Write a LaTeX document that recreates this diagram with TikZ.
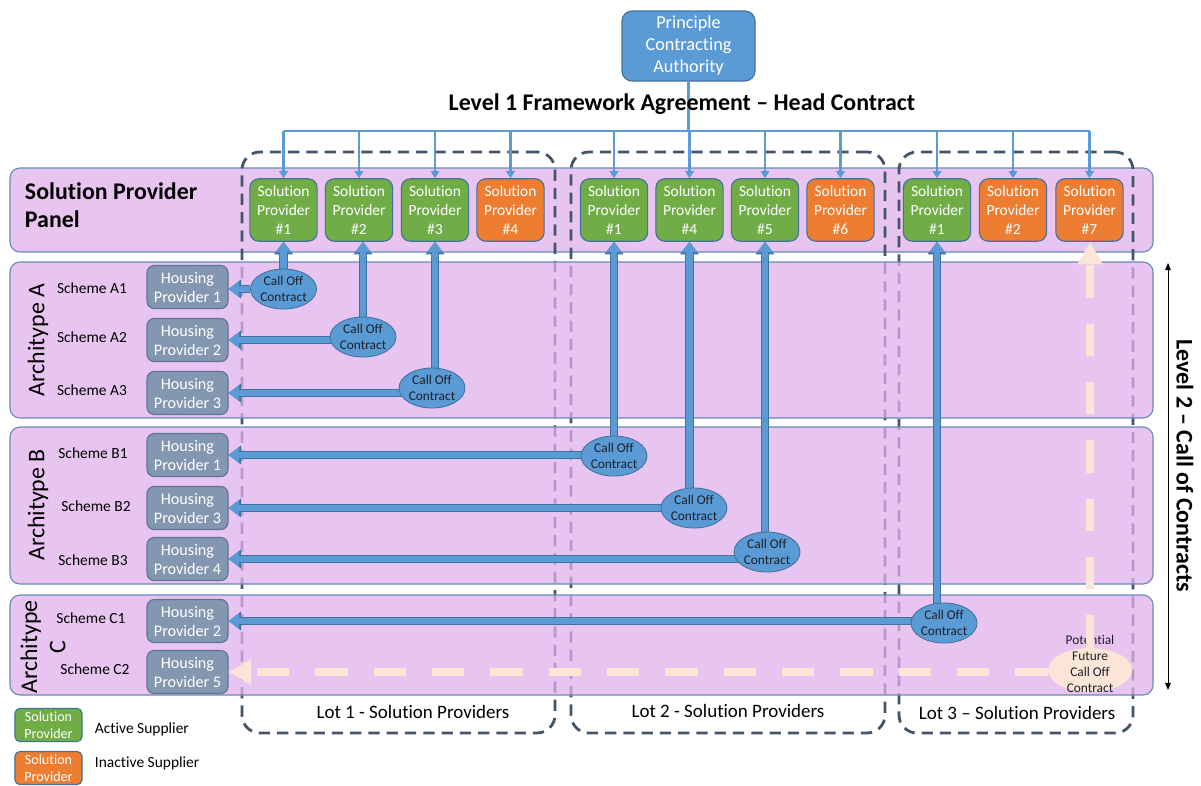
\documentclass[tikz,border=0pt]{standalone}
\usepackage{fontspec}
\setmainfont{Carlito}[Ligatures=NoCommon]
\usetikzlibrary{arrows.meta, shapes.geometric}
\definecolor{cofill}{RGB}{91,155,213}
\definecolor{coedge}{RGB}{65,113,156}
\definecolor{spgreen}{RGB}{112,173,71}
\definecolor{sporange}{RGB}{237,125,49}
\definecolor{hpgray}{RGB}{132,151,176}
\definecolor{hpedge}{RGB}{92,116,150}
\definecolor{panellilac}{RGB}{232,196,240}
\definecolor{rowlilac}{RGB}{224,176,235}
\definecolor{rowedge}{RGB}{104,138,186}
\definecolor{lotslate}{RGB}{68,84,106}
\definecolor{futpeach}{RGB}{251,229,214}
\definecolor{inkdark}{RGB}{30,32,40}
\pgfdeclarelayer{rows}
\pgfdeclarelayer{lines}
\pgfsetlayers{rows,lines,main}
\tikzset{
  panelbox/.style={
    draw=rowedge,
    line width=0.8pt,
    rounded corners=2.5mm,
    fill=panellilac,
    minimum width=285.75mm,
    inner sep=0pt
  },
  rowbox/.style={
    draw=rowedge,
    line width=0.8pt,
    rounded corners=2.5mm,
    fill=rowlilac,
    fill opacity=0.75,
    minimum width=285.75mm,
    inner sep=0pt
  },
  lotbox/.style={
    draw=lotslate,
    line width=2pt,
    dash pattern=on 8pt off 5pt,
    rounded corners=4.5mm,
    minimum height=145.25mm,
    inner sep=0pt
  },
  spbox/.style={
    draw=coedge,
    line width=0.8pt,
    rounded corners=2.2mm,
    minimum width=16.8mm,
    minimum height=15.6mm,
    inner sep=0pt,
    align=center,
    text=white,
    font=\fontsize{11}{13.5}\selectfont
  },
  spactive/.style={spbox, fill=spgreen},
  spinactive/.style={spbox, fill=sporange},
  hpbox/.style={
    draw=hpedge,
    line width=0.8pt,
    fill=hpgray,
    rounded corners=1.8mm,
    minimum width=20.25mm,
    minimum height=10.75mm,
    inner sep=0pt,
    align=center,
    text=white,
    font=\fontsize{11.5}{13.5}\selectfont
  },
  calloff/.style={
    ellipse,
    draw=coedge,
    line width=0.6pt,
    fill=cofill,
    minimum width=16.5mm,
    minimum height=10mm,
    inner sep=0pt,
    align=center,
    text=inkdark,
    font=\fontsize{9.5}{11}\selectfont
  },
  futurecall/.style={ellipse, fill=futpeach, minimum width=21mm, minimum height=11mm, inner sep=0pt},
  legendbox/.style={
    draw=coedge,
    line width=0.8pt,
    rounded corners=1.2mm,
    minimum width=16.75mm,
    minimum height=8.25mm,
    inner sep=0pt,
    align=center,
    text=white,
    font=\fontsize{10}{12}\selectfont
  },
  schemelabel/.style={font=\fontsize{11}{13}\selectfont},
  archlabel/.style={rotate=90, align=center, font=\fontsize{17}{20}\selectfont},
  lotlabel/.style={font=\fontsize{13.5}{16}\selectfont},
  headline/.style={draw=cofill, line width=1.6pt},
  headarrow/.style={headline, -{Triangle[width=6pt,length=5pt]}},
  callarrow/.style={draw=cofill, line width=4.6pt, -{Triangle[width=11pt,length=7.5pt]},
    preaction={draw=coedge, line width=6pt, -{Triangle[width=13pt,length=9pt]}}},
  futarrow/.style={draw=futpeach, line width=5.7pt, dash pattern=on 23pt off 18.5pt, -{Triangle[width=17pt,length=16pt]}},
  levelarrow/.style={draw=black, line width=0.6pt, {Triangle[width=4pt,length=5pt]}-{Triangle[width=4pt,length=5pt]}}
}

\begin{document}
\begin{tikzpicture}[x=0.25mm,y=-0.25mm]
    \useasboundingbox (0,0) rectangle (1201,785);

    \begin{pgfonlayer}{rows}
    \node[panelbox, minimum height=21mm] (panel) at (581.5,210) {};
    \node[lotbox, minimum width=78.25mm] (lot1) at (398.5,442.5) {};
    \node[lotbox, minimum width=78.5mm] (lot2) at (728,442.5) {};
    \node[lotbox, minimum width=58.5mm] (lot3) at (1016,442.5) {};
    \node[rowbox, minimum height=39mm] (rowA) at (581.5,340) {};
    \node[rowbox, minimum height=39.25mm] (rowB) at (581.5,505.5) {};
    \node[rowbox, minimum height=25mm] (rowC) at (581.5,645) {};
    \end{pgfonlayer}

    \node[draw=coedge, line width=0.8pt, fill=cofill, rounded corners=2.5mm, minimum width=33.25mm, minimum height=17.5mm,
      inner sep=0pt, align=center, text=white, font=\fontsize{13}{15.6}\selectfont] (pca) at (688.5,46) {Principle\\Contracting\\Authority};
    \node[font=\fontsize{17}{20}\selectfont\bfseries] (title) at (682,104) {Level 1 Framework Agreement -- Head Contract};
    \coordinate (bus) at (688.5,131);

    \node[anchor=west, align=left, font=\fontsize{17}{20}\selectfont\bfseries] (paneltext) at (20,205) {Solution Provider\\Panel};
    \node[spactive] (l1sp1) at (283.5,210) {Solution\\Provider\\\#1};
    \node[spactive] (l1sp2) at (359,210) {Solution\\Provider\\\#2};
    \node[spactive] (l1sp3) at (435,210) {Solution\\Provider\\\#3};
    \node[spinactive] (l1sp4) at (510.5,210) {Solution\\Provider\\\#4};
    \node[spactive] (l2sp1) at (614,210) {Solution\\Provider\\\#1};
    \node[spactive] (l2sp4) at (689.5,210) {Solution\\Provider\\\#4};
    \node[spactive] (l2sp5) at (765,210) {Solution\\Provider\\\#5};
    \node[spinactive] (l2sp6) at (840.5,210) {Solution\\Provider\\\#6};
    \node[spactive] (l3sp1) at (937,210) {Solution\\Provider\\\#1};
    \node[spinactive] (l3sp2) at (1013,210) {Solution\\Provider\\\#2};
    \node[spinactive] (l3sp7) at (1089.5,210) {Solution\\Provider\\\#7};

    \node[archlabel] (archA) at (38,340) {Architype A};
    \node[archlabel] (archB) at (38,505) {Architype B};
    \node[archlabel] (archC) at (43,647) {Architype\\C};

    \node[schemelabel] (schA1) at (92,288) {Scheme A1};
    \node[schemelabel] (schA2) at (92,337) {Scheme A2};
    \node[schemelabel] (schA3) at (92,390) {Scheme A3};
    \node[schemelabel] (schB1) at (93,453) {Scheme B1};
    \node[schemelabel] (schB2) at (96,506) {Scheme B2};
    \node[schemelabel] (schB3) at (93,560) {Scheme B3};
    \node[schemelabel] (schC1) at (91,618) {Scheme C1};
    \node[schemelabel] (schC2) at (95,669) {Scheme C2};

    \node[hpbox] (hpA1) at (187.5,287) {Housing\\Provider 1};
    \node[hpbox] (hpA2) at (187.5,340) {Housing\\Provider 2};
    \node[hpbox] (hpA3) at (187.5,393) {Housing\\Provider 3};
    \node[hpbox] (hpB1) at (187.5,455) {Housing\\Provider 1};
    \node[hpbox] (hpB2) at (187.5,508) {Housing\\Provider 3};
    \node[hpbox] (hpB3) at (187.5,559) {Housing\\Provider 4};
    \node[hpbox] (hpC1) at (187.5,621) {Housing\\Provider 2};
    \node[hpbox] (hpC2) at (187.5,672) {Housing\\Provider 5};

    \node[calloff] (coA1) at (283.5,289) {Call Off\\Contract};
    \node[calloff] (coA2) at (363,337) {Call Off\\Contract};
    \node[calloff] (coA3) at (432,388) {Call Off\\Contract};
    \node[calloff] (coB1) at (614,456) {Call Off\\Contract};
    \node[calloff] (coB2) at (694,508) {Call Off\\Contract};
    \node[calloff] (coB3) at (767,552) {Call Off\\Contract};
    \node[calloff] (coC1) at (944,623) {Call Off\\Contract};
    \node[futurecall] (futco) at (1090,670) {};
    \node[align=center, text=inkdark, font=\fontsize{9.5}{11.4}\selectfont] (futtext) at (1090,664) {Potential\\Future\\Call Off\\Contract};

    \node[lotlabel] (lot1text) at (413,712) {Lot 1 - Solution Providers};
    \node[lotlabel] (lot2text) at (728,711) {Lot 2 - Solution Providers};
    \node[lotlabel] (lot3text) at (1017,713) {Lot 3 -- Solution Providers};

    \coordinate (lvtop) at (1168,263);
    \coordinate (lvbot) at (1168,690);
    \draw[levelarrow] (lvtop) -- (lvbot);
    \node[rotate=-90, font=\fontsize{17}{20}\selectfont\bfseries] (lvtext) at (1185,466) {Level 2 -- Call of Contracts};

    \node[legendbox, fill=spgreen] (legact) at (48.5,725) {Solution\\Provider};
    \node[legendbox, fill=sporange] (leginact) at (48.5,768) {Solution\\Provider};
    \node[anchor=west, font=\fontsize{11}{13}\selectfont] (legacttext) at (90,729) {Active Supplier};
    \node[anchor=west, font=\fontsize{11}{13}\selectfont] (leginacttext) at (90,763) {Inactive Supplier};

    \begin{pgfonlayer}{lines}
    \draw[headline] (pca) -- (bus);
    \draw[headline] (l1sp1 |- bus) -- (l3sp7 |- bus);
    \draw[headarrow] (l1sp1 |- bus) -- (l1sp1);
    \draw[headarrow] (l1sp2 |- bus) -- (l1sp2);
    \draw[headarrow] (l1sp3 |- bus) -- (l1sp3);
    \draw[headarrow] (l1sp4 |- bus) -- (l1sp4);
    \draw[headarrow] (l2sp1 |- bus) -- (l2sp1);
    \draw[headarrow] (l2sp4 |- bus) -- (l2sp4);
    \draw[headarrow] (l2sp5 |- bus) -- (l2sp5);
    \draw[headarrow] (l2sp6 |- bus) -- (l2sp6);
    \draw[headarrow] (l3sp1 |- bus) -- (l3sp1);
    \draw[headarrow] (l3sp2 |- bus) -- (l3sp2);
    \draw[headarrow] (l3sp7 |- bus) -- (l3sp7);

    \draw[callarrow] (l1sp1 |- coA1) -- (l1sp1.south);
    \draw[callarrow] (coA1) -- (coA1 -| hpA1.east);
    \draw[callarrow] (coA2) -- (coA2 |- l1sp2.south);
    \draw[callarrow] (coA2 |- hpA2) -- (hpA2.east);
    \draw[callarrow] (l1sp3 |- coA3) -- (l1sp3.south);
    \draw[callarrow] (coA3 |- hpA3) -- (hpA3.east);
    \draw[callarrow] (l2sp1 |- coB1) -- (l2sp1.south);
    \draw[callarrow] (coB1 |- hpB1) -- (hpB1.east);
    \draw[callarrow] (l2sp4 |- coB2) -- (l2sp4.south);
    \draw[callarrow] (coB2 |- hpB2) -- (hpB2.east);
    \draw[callarrow] (l2sp5 |- coB3) -- (l2sp5.south);
    \draw[callarrow] (coB3 |- hpB3) -- (hpB3.east);
    \draw[callarrow] (l3sp1 |- coC1) -- (l3sp1.south);
    \draw[callarrow] (coC1 |- hpC1) -- (hpC1.east);
    \end{pgfonlayer}

    \draw[futarrow] (futco.north) -- (futco.north |- l3sp7.south);
    \draw[futarrow] (futco.west |- hpC2) -- (hpC2.east);
\end{tikzpicture}
\end{document}
